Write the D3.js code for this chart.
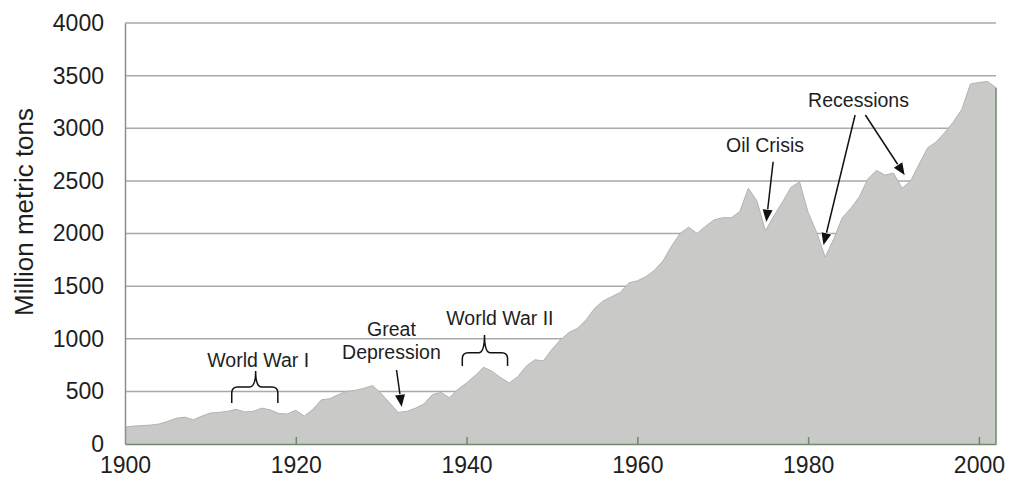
<!DOCTYPE html>
<html>
<head>
<meta charset="utf-8">
<script src="https://cdn.jsdelivr.net/npm/d3@7/dist/d3.min.js"></script>
<style>
  body { margin: 0; background: #fff; }
  svg text { font-family: "Liberation Sans", Arial, sans-serif; fill: #1e1e1e; }
</style>
</head>
<body>
<div id="app"></div>
<script>
// data, one value per year 1900..2002
const years = d3.range(1900, 2003);
const values = [
  160, 170, 175, 180, 190, 215, 245, 255, 230, 265,      // 1900s
  295, 300, 310, 330, 305, 310, 340, 325, 290, 285,      // 1910s
  320, 265, 330, 420, 430, 470, 500, 510, 530, 555,      // 1920s
  480, 390, 300, 310, 340, 380, 470, 490, 440, 520,      // 1930s
  580, 650, 730, 690, 630, 580, 640, 740, 800, 790,      // 1940s
  900, 990, 1060, 1100, 1180, 1290, 1360, 1400, 1440, 1530,   // 1950s
  1550, 1590, 1650, 1740, 1880, 2000, 2060, 2000, 2070, 2130, // 1960s
  2150, 2150, 2210, 2430, 2310, 2025, 2170, 2300, 2440, 2490, // 1970s
  2200, 2010, 1776, 1950, 2150, 2240, 2350, 2520, 2600, 2555, // 1980s
  2575, 2430, 2500, 2660, 2815, 2870, 2960, 3060, 3180, 3420, // 1990s
  3435, 3445, 3385                                            // 2000s
];
const xTicks = [1900, 1920, 1940, 1960, 1980, 2000];
const yTicks = [0, 500, 1000, 1500, 2000, 2500, 3000, 3500, 4000];

const W = 1016, H = 485;
const LEFT = 125, RIGHT = 996, TOP = 23, BOTTOM = 444;
const GREEN = "#6b8a6e";

const svg = d3.select("#app").append("svg")
  .attr("width", W).attr("height", H);

const x = d3.scaleLinear().domain([1900, 2002]).range([LEFT, RIGHT]);
const y = d3.scaleLinear().domain([0, 4000]).range([BOTTOM, TOP]);

// gridlines
svg.append("g").selectAll("line")
  .data(yTicks.filter(d => d > 0))
  .enter().append("line")
  .attr("x1", LEFT).attr("x2", RIGHT)
  .attr("y1", d => y(d)).attr("y2", d => y(d))
  .attr("stroke", "#a9a9a9")
  .attr("stroke-width", 1.5);

// area
const data = years.map((yr, i) => ({ yr: yr, v: values[i] }));
const area = d3.area()
  .x(d => x(d.yr))
  .y0(y(0))
  .y1(d => y(d.v));
svg.append("path").datum(data)
  .attr("d", area)
  .attr("fill", "#c9c9c7");
svg.append("path").datum(data)
  .attr("d", d3.line().x(d => x(d.yr)).y(d => y(d.v)))
  .attr("fill", "none")
  .attr("stroke", "#b3b3b1")
  .attr("stroke-width", 1);
// right edge of the area
const last = data[data.length - 1];
svg.append("line")
  .attr("x1", x(last.yr)).attr("x2", x(last.yr))
  .attr("y1", y(last.v)).attr("y2", y(0))
  .attr("stroke", GREEN).attr("stroke-width", 1.5);

// y axis
const yAxis = svg.append("g")
  .attr("transform", `translate(${LEFT},0)`)
  .call(d3.axisLeft(y).tickValues(yTicks).tickFormat(d3.format("d"))
    .tickSize(0).tickSizeOuter(0).tickPadding(21));
yAxis.select(".domain").attr("stroke", "#8e8e8e").attr("stroke-width", 1.5);
yAxis.selectAll("text").style("font-size", "23px").attr("fill", "#1e1e1e");

// x axis
const xAxis = svg.append("g")
  .attr("transform", `translate(0,${BOTTOM})`)
  .call(d3.axisBottom(x).tickValues(xTicks).tickFormat(d3.format("d"))
    .tickSize(-7).tickSizeOuter(0).tickPadding(13));
xAxis.select(".domain").attr("stroke", GREEN).attr("stroke-width", 1.5);
xAxis.selectAll(".tick line").attr("stroke", GREEN).attr("stroke-width", 1.5);
xAxis.selectAll(".tick").filter(d => d === 1900).select("line").remove();
xAxis.selectAll("text").style("font-size", "23px").attr("fill", "#1e1e1e");

// y title
svg.append("text")
  .attr("transform", "translate(33,212) rotate(-90)")
  .attr("text-anchor", "middle")
  .style("font-size", "26px")
  .text("Million metric tons");

// annotations (positions in data units)
const defs = svg.append("defs");
defs.append("marker")
  .attr("id", "head")
  .attr("markerUnits", "userSpaceOnUse")
  .attr("viewBox", "0 0 14 12")
  .attr("refX", 13).attr("refY", 6)
  .attr("markerWidth", 14).attr("markerHeight", 12)
  .attr("orient", "auto")
  .append("path")
  .attr("d", "M1,1 L13,6 L1,11 Z")
  .attr("fill", "#111")
  .attr("stroke", "#fff")
  .attr("stroke-width", 1.5)
  .attr("paint-order", "stroke");

function label(txt, yr, v) {
  svg.append("text")
    .attr("x", x(yr)).attr("y", y(v))
    .attr("text-anchor", "middle")
    .style("font-size", "19.5px")
    .text(txt);
}
function arrow(yr1, v1, yr2, v2) {
  svg.append("line")
    .attr("x1", x(yr1)).attr("y1", y(v1))
    .attr("x2", x(yr2)).attr("y2", y(v2))
    .attr("stroke", "#111").attr("stroke-width", 1.5)
    .attr("marker-end", "url(#head)");
}
function brace(yr1, yr2, yrMid, vTop, vEnd, vSpike) {
  const a = x(yr1), b = x(yr2), m = x(yrMid);
  const t = y(vTop), e = y(vEnd), s = y(vSpike);
  const r = 6;
  const p = `M${a},${e} L${a},${t + r} Q${a},${t} ${a + r},${t} L${m - r},${t} ` +
    `Q${m},${t} ${m},${s}` +
    ` Q${m},${t} ${m + r},${t} L${b - r},${t} Q${b},${t} ${b},${t + r} L${b},${e}`;
  svg.append("path").attr("d", p)
    .attr("fill", "none").attr("stroke", "#111").attr("stroke-width", 1.5);
}

label("World War I", 1915.6, 734);
brace(1912.5, 1917.9, 1915.3, 542, 390, 694);

label("Great", 1931.2, 1026);
label("Depression", 1931.2, 808);
arrow(1931.8, 703, 1932.4, 354);

label("World War II", 1943.9, 1131);
brace(1939.5, 1944.8, 1942.1, 867, 741, 1036);

label("Oil Crisis", 1974.95, 2777);
arrow(1975.9, 2682, 1975.1, 2112);

label("Recessions", 1985.9, 3205);
arrow(1985.5, 3126, 1981.8, 1891);
arrow(1986.7, 3126, 1991.3, 2556);
</script>
</body>
</html>
